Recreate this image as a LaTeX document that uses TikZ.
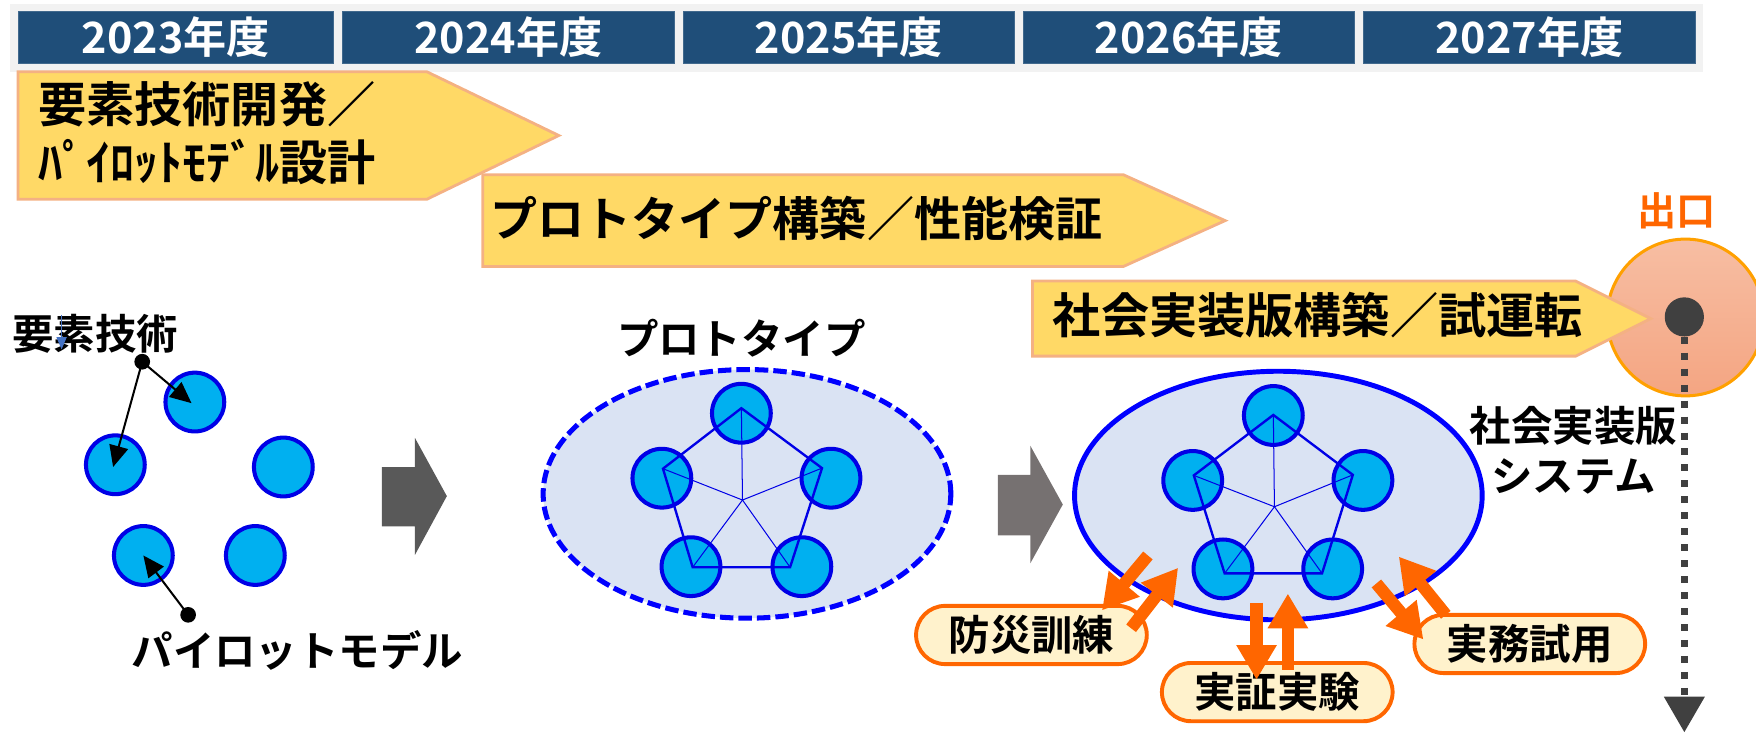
\documentclass[tikz,border=0pt]{standalone}
\usepackage{fontspec}
\setmainfont{Noto Sans CJK JP}[BoldFont={Noto Sans CJK JP Bold}]
\usetikzlibrary{arrows.meta,shapes.geometric}
\definecolor{hdrgray}{HTML}{F2F2F2}
\definecolor{yearblue}{HTML}{1F4E79}
\definecolor{phyellow}{HTML}{FFD966}
\definecolor{phborder}{HTML}{F4B183}
\definecolor{nodecyan}{HTML}{00B0F0}
\definecolor{nodeblue}{HTML}{0000E6}
\definecolor{ellfill}{HTML}{DAE3F3}
\definecolor{ellblue}{HTML}{0000FF}
\definecolor{orng}{HTML}{FF6600}
\definecolor{lblfill}{HTML}{FFF2CC}
\definecolor{exittop}{HTML}{F7BEA3}
\definecolor{exitbot}{HTML}{F4A582}
\definecolor{exitborder}{HTML}{FFA000}
\definecolor{darkg}{HTML}{404040}
\definecolor{arrowgA}{HTML}{595959}
\definecolor{arrowgB}{HTML}{767171}
\definecolor{glitch}{HTML}{4472C4}
\tikzset{
  yearbox/.style={rectangle, fill=yearblue, draw=yearblue!85!white, line width=0.6pt,
    minimum height=46pt, inner sep=0pt, text=white, font=\bfseries\fontsize{38.5}{40}\selectfont},
  phase/.style={fill=phyellow, draw=phborder, line width=2.5pt, line join=miter},
  phasetext/.style={anchor=west, inner sep=0pt, align=left, font=\bfseries\fontsize{43}{51.5}\selectfont},
  elem/.style={circle, minimum size=52.5pt, inner sep=0pt, fill=nodecyan, draw=nodeblue, line width=3.6pt},
  lbl/.style={inner sep=0pt, font=\bfseries\fontsize{37}{45}\selectfont},
  pin/.style={circle, fill=black, minimum size=14pt, inner sep=0pt},
  ptr/.style={black, line width=1.8pt, -{Triangle[length=19pt,width=17pt]}},
  sysell/.style={ellipse, fill=ellfill, draw=ellblue, minimum width=364pt, minimum height=222pt, inner sep=0pt},
  pent/.style={nodeblue, line width=2.1pt, line join=miter},
  spoke/.style={nodeblue, line width=0.9pt},
  tag/.style={rectangle, rounded corners=26pt, fill=lblfill, draw=orng, line width=3.5pt,
    minimum width=206pt, minimum height=52pt, inner sep=0pt, font=\bfseries\fontsize{37}{40}\selectfont},
  flow/.style={color=orng, line width=11pt, -{Triangle[length=31pt,width=34pt]}},
  exitcircle/.style={circle, minimum size=140pt, inner sep=0pt, top color=exittop, bottom color=exitbot,
    draw=exitborder, line width=2.7pt},
  exitline/.style={darkg, line width=6.25pt, dash pattern=on 6.25pt off 8pt, -{Triangle[length=32pt,width=35pt]}},
}
\begin{document}
\begin{tikzpicture}[x=1pt,y=-1pt]
\useasboundingbox (0,0) rectangle (1568,655);
% ---- header
\fill[hdrgray] (8.6,3.6) rectangle (1521,64);
\node[yearbox, minimum width=282pt] (y2023) at (157,33.5) {2023年度};
\node[yearbox, minimum width=296pt] (y2024) at (454,33.5) {2024年度};
\node[yearbox, minimum width=296pt] (y2025) at (758,33.5) {2025年度};
\node[yearbox, minimum width=296pt] (y2026) at (1061.5,33.5) {2026年度};
\node[yearbox, minimum width=296pt] (y2027) at (1365.5,33.5) {2027年度};
% ---- phases
\draw[phase] (16,64) -- (381,64) -- (499,121) -- (381,178) -- (16,178) -- cycle;
\node[phasetext] (ph1) at (34,119) {要素技術開発／\\ﾊﾟｲﾛｯﾄﾓﾃﾞﾙ設計};
\draw[phase] (431,156) -- (1003,156) -- (1094,197) -- (1003,238) -- (431,238) -- cycle;
\node[phasetext, font=\bfseries\fontsize{42}{50}\selectfont] (ph2) at (438,195) {プロトタイプ構築／性能検証};
% ---- exit
\node[exitcircle] (exit) at (1505,283.5) {};
\node[font=\bfseries\fontsize{35}{40}\selectfont, text=orng, inner sep=0pt] (exitlbl) at (1497,188) {出口};
\draw[phase] (922,251) -- (1407,251) -- (1474,284.5) -- (1407,318) -- (922,318) -- cycle;
\node[phasetext] (ph3) at (940,281) {社会実装版構築／試運転};
\node[circle, fill=darkg, minimum size=35pt, inner sep=0pt] (dot) at (1504,283) {};
\coordinate (exitend) at (1504,654);
\draw[exitline] (dot.south) -- (exitend);
% ---- left: element technologies
\node[elem] (cA) at (174,359) {};
\node[elem] (cB) at (103,415) {};
\node[elem] (cC) at (253,417) {};
\node[elem] (cD) at (128,496) {};
\node[elem] (cE) at (228,496) {};
\node[lbl, font=\bfseries\fontsize{37}{40}\selectfont] (lblelem) at (85,298.5) {要素技術};
\coordinate (glA) at (55,281);
\coordinate (glB) at (55,312);
\draw[glitch, line width=1.3pt, -{Triangle[length=11pt,width=9pt]}] (glA) -- (glB);
\node[pin] (pin1) at (127,323) {};
\coordinate (tipA) at (171,360);
\coordinate (tipB) at (101,417);
\draw[ptr] (pin1.center) -- (tipA);
\draw[ptr] (pin1.center) -- (tipB);
\node[pin] (pin2) at (168,549) {};
\coordinate (tipD) at (128,496);
\draw[ptr] (pin2.center) -- (tipD);
\node[lbl] (lblpilot) at (265.5,581) {パイロットモデル};
% ---- gray step arrows
\fill[arrowgA] (341,417) -- (370.5,417) -- (370.5,391) -- (399,443) -- (370.5,495.5) -- (370.5,470) -- (341,470) -- cycle;
\fill[arrowgB] (891,424) -- (920,424) -- (920,398) -- (949,450.5) -- (920,503) -- (920,478) -- (891,478) -- cycle;
% ---- prototype
\node[lbl] (lblproto) at (662,302) {プロトタイプ};
\node[sysell, dash pattern=on 12pt off 4.5pt, line width=4.5pt] (ell1) at (667,441) {};
\node[elem] (p1t) at (662,369) {};
\node[elem] (p1ul) at (591,427) {};
\node[elem] (p1ur) at (742,427) {};
\node[elem] (p1ll) at (617,506) {};
\node[elem] (p1lr) at (716,506) {};
\coordinate (v1t) at (662,364.5);
\coordinate (v1ul) at (592,418.5);
\coordinate (v1ur) at (734,418);
\coordinate (v1ll) at (618.5,506.5);
\coordinate (v1lr) at (705.5,506.5);
\coordinate (v1c) at (663,446.5);
\draw[pent] (v1t) -- (v1ur) -- (v1lr) -- (v1ll) -- (v1ul) -- cycle;
\draw[spoke] (v1c) -- (v1t);
\draw[spoke] (v1c) -- (v1ul);
\draw[spoke] (v1c) -- (v1ur);
\draw[spoke] (v1c) -- (v1ll);
\draw[spoke] (v1c) -- (v1lr);
% ---- social implementation system
\node[sysell, line width=4.4pt] (ell2) at (1141.5,442.5) {};
\node[elem] (p2t) at (1137,371) {};
\node[elem] (p2ul) at (1065,429) {};
\node[elem] (p2ur) at (1217,429) {};
\node[elem] (p2ll) at (1092,508) {};
\node[elem] (p2lr) at (1190,508) {};
\coordinate (v2t) at (1137,370.5);
\coordinate (v2ul) at (1066,424.5);
\coordinate (v2ur) at (1208,424);
\coordinate (v2ll) at (1093.5,512);
\coordinate (v2lr) at (1180.5,512);
\coordinate (v2c) at (1138,452.5);
\draw[pent] (v2t) -- (v2ur) -- (v2lr) -- (v2ll) -- (v2ul) -- cycle;
\draw[spoke] (v2c) -- (v2t);
\draw[spoke] (v2c) -- (v2ul);
\draw[spoke] (v2c) -- (v2ur);
\draw[spoke] (v2c) -- (v2ll);
\draw[spoke] (v2c) -- (v2lr);
\node[lbl, align=center, font=\bfseries\fontsize{37}{45}\selectfont] (lblsys) at (1405,402) {社会実装版\\システム};
% ---- trial tags
\node[tag] (tagdrill) at (921,567) {防災訓練};
\node[tag] (tagdemo) at (1140.5,618) {実証実験};
\node[tag] (tagwork) at (1366,575) {実務試用};
\coordinate (f1a) at (1025,496);
\coordinate (f1b) at (984,545);
\coordinate (f2a) at (1010,561);
\coordinate (f2b) at (1052,507);
\coordinate (f3a) at (1122,538);
\coordinate (f3b) at (1122,607);
\coordinate (f4a) at (1150,598);
\coordinate (f4b) at (1150,530);
\coordinate (f5a) at (1229,521);
\coordinate (f5b) at (1271,571);
\coordinate (f6a) at (1291,549);
\coordinate (f6b) at (1249,497);
\draw[flow] (f1a) -- (f1b);
\draw[flow] (f2a) -- (f2b);
\draw[flow] (f3a) -- (f3b);
\draw[flow] (f4a) -- (f4b);
\draw[flow] (f5a) -- (f5b);
\draw[flow] (f6a) -- (f6b);
\end{tikzpicture}
\end{document}
